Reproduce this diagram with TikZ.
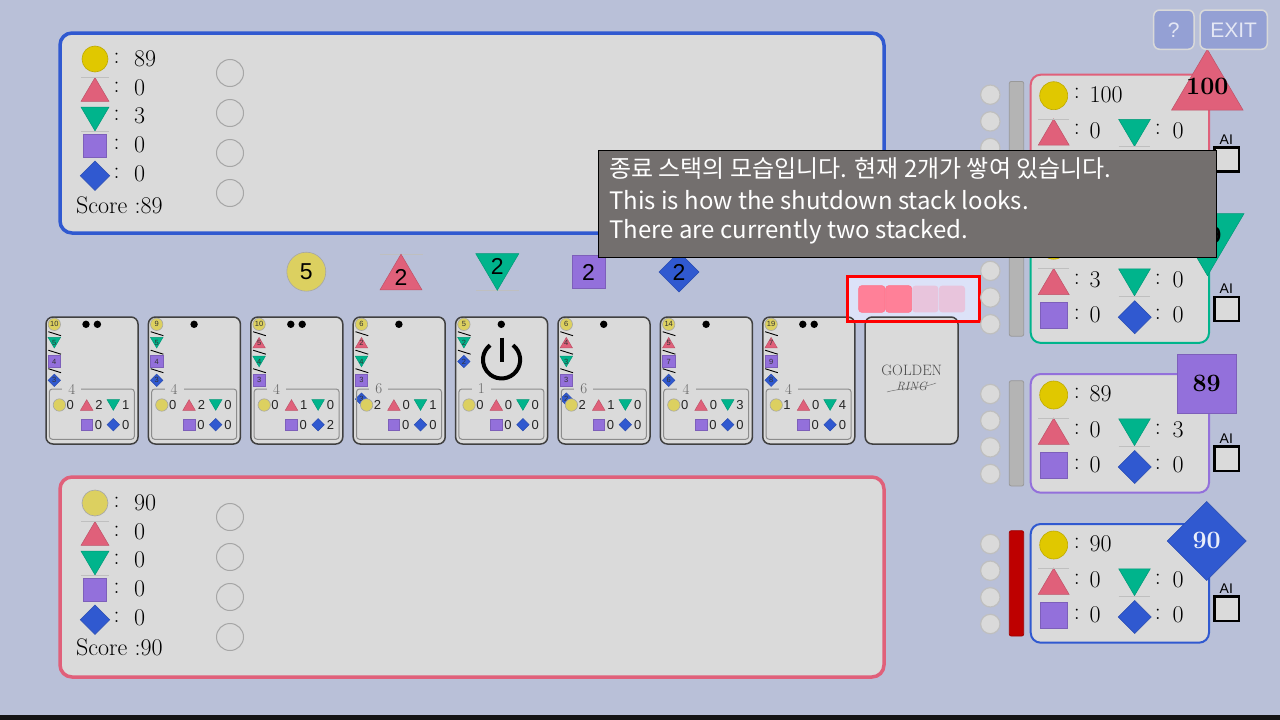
\documentclass[tikz,border=0pt]{standalone}
\usepackage{fontspec}
\newfontfamily\kofont{Noto Sans CJK KR}
\newfontfamily\uifont{Liberation Sans}
\usetikzlibrary{positioning}
\definecolor{pagebg}{HTML}{B9C0D8}
\definecolor{cardgrey}{HTML}{DADADA}
\definecolor{tokyellow}{HTML}{E0C800}
\definecolor{dimyellow}{HTML}{DCD060}
\definecolor{tokred}{HTML}{E0607A}
\definecolor{tokteal}{HTML}{00B48C}
\definecolor{tokpurple}{HTML}{9370DB}
\definecolor{tokblue}{HTML}{3059D0}
\definecolor{tipgrey}{HTML}{736F6E}
\definecolor{btnblue}{HTML}{94A0D4}
\definecolor{rodgrey}{HTML}{B4B4B4}
\definecolor{rodred}{HTML}{BE0000}
\definecolor{glowbg}{HTML}{DCE2F8}
\definecolor{padon}{HTML}{FF8098}
\definecolor{padoff}{HTML}{E8C4DC}
\newcommand{\pxfont}[1]{\fontsize{#1}{#1}\selectfont}
\tikzset{
  pics/circletok/.style={code={\path[draw=gray!70,fill=dimyellow,line width=.6pt] (0,0) circle[radius=1];}},
  pics/brighttok/.style={code={\path[draw=tokyellow!85!black,fill=tokyellow,line width=.6pt] (0,0) circle[radius=1];}},
  pics/uptok/.style={code={\path[draw=tokred!85!black,fill=tokred,line width=.5pt] (0,-.85) -- (1,.85) -- (-1,.85) -- cycle;}},
  pics/downtok/.style={code={\path[draw=tokteal!85!black,fill=tokteal,line width=.5pt] (0,.85) -- (1,-.85) -- (-1,-.85) -- cycle;}},
  pics/squaretok/.style={code={\path[draw=tokpurple!85!black,fill=tokpurple,line width=.5pt] (-1,-1) rectangle (1,1);}},
  pics/diamondtok/.style={code={\path[draw=tokblue!85!black,fill=tokblue,line width=.5pt] (0,-1) -- (1,0) -- (0,1) -- (-1,0) -- cycle;}},
  cardbox/.style={draw=black!75,fill=cardgrey,line width=1.5pt,rounded corners=7pt},
  innerbox/.style={draw=black!45,line width=1pt,rounded corners=3pt},
  seqnum/.style={font=\uifont\pxfont{7.5},text=black!80,inner sep=0pt},
  rownum/.style={font=\uifont\pxfont{13},text=black!85,inner sep=0pt},
  bignum/.style={font=\pxfont{24},inner sep=0pt,anchor=west},
  statnum/.style={font=\pxfont{24},inner sep=0pt,anchor=west},
  midnum/.style={font=\uifont\pxfont{23},inner sep=0pt},
  badgenum/.style={font=\bfseries\pxfont{25},inner sep=0pt},
  pitbox/.style={draw=black!35,line width=1pt},
  slotdot/.style={draw=black!25,fill=cardgrey,line width=1.2pt},
  hairline/.style={draw=black!25,line width=.5pt},
  uibtn/.style={draw=black!15,fill=btnblue,line width=1.5pt,rounded corners=6pt},
  uitext/.style={font=\uifont\pxfont{21},text=white!75!btnblue,inner sep=0pt},
  stackpad/.style={rounded corners=3pt,line width=.6pt}
}
% name, then five row values
\newcommand{\cardrow}[6]{
  \pic[scale=6.2] at (13.4,88) {circletok};
  \node[rownum] (#1-a) at (24.3,88) {#2};
  \pic[scale=6.2] at (40.7,88) {uptok};
  \node[rownum] (#1-b) at (53,88) {#3};
  \pic[scale=6.2] at (67.3,88) {downtok};
  \node[rownum] (#1-c) at (79.7,88) {#4};
  \pic[scale=5.8] at (40.6,107.7) {squaretok};
  \node[rownum] (#1-d) at (52.5,107.7) {#5};
  \pic[scale=6.2] at (67.3,107.7) {diamondtok};
  \node[rownum] (#1-e) at (79.7,107.7) {#6};
}
% name, x, dot positions, cost, token list, big digit, row values
\newcommand{\gamecard}[7]{
  \begin{scope}[shift={(#2,317)}]
    \draw[cardbox] (0,0) rectangle (92,127);
    \foreach \d in {#3} \fill[black] (\d,7.3) circle[radius=3.7];
    \pic[scale=6.2] at (8.3,7.3) {circletok};
    \node[seqnum] (#1-cost) at (8.3,7.3) {#4};
    \foreach \t/\n [count=\i] in {#5} {
      \ifnum\i<4 \draw[black,line width=.9pt] (2.3,{14.7+18.5*(\i-1)}) -- (15,{18.7+18.5*(\i-1)}); \fi
      \pic[scale=6.2] at (8.3,{25.7+18.8*(\i-1)}) {\t tok};
      \node[seqnum] (#1-s\i) at (8.3,{25.7+18.8*(\i-1)}) {\n};
    }
    \draw[innerbox] (3.3,72) rectangle (88.3,122.3);
    \node[fill=cardgrey,inner xsep=6pt,inner ysep=0pt,font=\pxfont{15},text=black!60] (#1-no) at (25.7,72) {#6};
    \cardrow{#1}#7
  \end{scope}
}
% name, y, border, circle pic, values
\newcommand{\mainpanel}[9]{
  \begin{scope}[shift={(0,#2)}]
    \draw[draw=#3,fill=cardgrey,line width=3.5pt,rounded corners=12pt] (60,33) rectangle (884,233);
    \pic[scale=13] at (95,59) {#4};
    \pic[scale=14] at (95,89.5) {uptok};
    \pic[scale=14] at (95,119) {downtok};
    \pic[scale=11.7] at (95,145.5) {squaretok};
    \pic[scale=14.7] at (95,175.7) {diamondtok};
    \draw[hairline] (81,77.5) -- (109,77.5) (81,131) -- (109,131);
    \foreach \r/\v [count=\i] in {59/#5,88/#6,116/#7,145/#8,174/#9} {
      \node[bignum] (#1-c\i) at (113.5,\r-1) {:};
      \node[bignum] (#1-v\i) at (134,\r) {\v};
    }
    \foreach \r in {73,113,153,193} \draw[pitbox] (230,\r) circle[radius=13.5];
  \end{scope}
}
% name, y, border, rod colour, values
\newcommand{\statpanel}[9]{
  \begin{scope}[shift={(1030.7,#2)}]
    \foreach \r in {20,46.7,73.3,100} \draw[slotdot] (-40.4,\r) circle[radius=9.7];
    \draw[draw=#4!85!black,fill=#4,line width=.8pt,rounded corners=2pt] (-21.4,6.7) rectangle (-7,112);
    \draw[draw=#3,fill=cardgrey,line width=2pt,rounded corners=10pt] (0,0) rectangle (178.3,118.7);
    \pic[scale=14] at (23,21) {brighttok};
    \pic[scale=15.5] at (23,57.3) {uptok};
    \pic[scale=15.8] at (103.8,58.2) {downtok};
    \pic[scale=13.2] at (23,91.2) {squaretok};
    \pic[scale=16.5] at (104,93) {diamondtok};
    \draw[hairline] (7.6,44.3) -- (38.6,44.3) (88,72) -- (119.6,72);
    \node[statnum] (#1-c1) at (43,19) {:};
    \node[statnum] (#1-c2) at (43,55) {:};
    \node[statnum] (#1-c3) at (43,90) {:};
    \node[statnum] (#1-c4) at (124,55) {:};
    \node[statnum] (#1-c5) at (124,90) {:};
    \node[statnum] (#1-v1) at (58.6,20) {#5};
    \node[statnum] (#1-v2) at (58.6,56) {#6};
    \node[statnum] (#1-v3) at (141.6,56) {#7};
    \node[statnum] (#1-v4) at (58.6,91) {#8};
    \node[statnum] (#1-v5) at (141.6,91) {#9};
    \node[font=\uifont\pxfont{14},inner sep=0pt] (#1-ai) at (195.6,64.5) {AI};
    \draw[draw=black,fill=cardgrey,line width=2.5pt] (183.7,72.7) rectangle (208.5,97);
  \end{scope}
}
\begin{document}
\begin{tikzpicture}[x=1pt,y=-1pt]
\useasboundingbox (0,0) rectangle (1280,720);
\fill[pagebg] (0,0) rectangle (1280,720);
\fill[black!92] (0,715) rectangle (1280,720);

% player boards
\mainpanel{top}{0}{tokblue}{brighttok}{89}{0}{3}{0}{0}
\node[font=\pxfont{24},inner sep=0pt,anchor=west] (topscore) at (76,205) {Score :89};
\mainpanel{bottom}{444}{tokred}{circletok}{90}{0}{0}{0}{0}
\node[font=\pxfont{24},inner sep=0pt,anchor=west] (bottomscore) at (76,647) {Score :90};

% token stacks
\pic[scale=19.5] at (306.3,271.7) {circletok};
\node[midnum] (midfive) at (306.3,271.7) {5};
\draw[hairline] (380,254) -- (423,254) (476,290.5) -- (519,290.5);
\pic[scale=21] at (401,272) {uptok};
\node[midnum] (midup) at (401,277) {2};
\pic[scale=21.5] at (497.3,272) {downtok};
\node[midnum] (middown) at (497.3,266) {2};
\pic[scale=16.5] at (588.6,272.2) {squaretok};
\node[midnum] (midsquare) at (588.6,272) {2};
\pic[scale=20] at (679,272) {diamondtok};
\node[midnum] (middiamond) at (679,272) {2};

% shutdown highlight
\fill[glowbg] (846,275) rectangle (980,322);

\gamecard{c1}{46}{40,51.4}{10}{down/5,square/4,diamond/3}{4}{{0}{2}{1}{0}{0}}
\gamecard{c2}{148.4}{45.7}{9}{down/5,square/4,diamond/3}{4}{{0}{2}{0}{0}{0}}
\gamecard{c3}{250.8}{40,51.4}{10}{up/5,down/4,square/3}{4}{{0}{1}{0}{0}{2}}
\gamecard{c4}{353.2}{45.7}{6}{up/2,down/4,square/3,diamond/3}{6}{{2}{0}{1}{0}{0}}
\gamecard{c5}{455.6}{45.7}{5}{down/2,diamond/2}{1}{{0}{0}{0}{0}{0}}
\gamecard{c6}{558}{45.7}{6}{up/4,down/3,square/3,diamond/2}{6}{{2}{1}{0}{0}{0}}
\gamecard{c7}{660.4}{45.7}{14}{up/5,square/7,diamond/6}{4}{{0}{0}{3}{0}{0}}
\gamecard{c8}{762.8}{40,51.4}{19}{up/7,square/9,diamond/8}{4}{{1}{0}{4}{0}{0}}

% power mark on the shutdown card
\draw[black,line width=4pt] (501.7,337.5) -- (501.7,361.5);
\draw[black,line width=4pt] (513,345.2) arc[start angle=52,end angle=-232,radius=18.6pt];

% deck
\draw[cardbox] (865.2,317) rectangle (958,444);
\node[font=\pxfont{15},text=black!70,inner sep=0pt] (deckgolden) at (911.7,370) {GOLDEN};
\node[font=\itshape\pxfont{12},text=black!70,inner sep=0pt] (deckring) at (911.7,386.5) {RING};
\draw[black!55,line width=.5pt] (887,392) .. controls (900,388) and (925,388) .. (936,383);

\draw[red,line width=3pt] (847.5,276.5) rectangle (979.5,321);
\draw[stackpad,fill=padon,draw=padon!90!red] (858.7,285.7) rectangle (885,312.3);
\draw[stackpad,fill=padon,draw=padon!90!red] (885.7,285.7) rectangle (911.7,312.3);
\draw[stackpad,fill=padoff,draw=none] (912.3,285.7) rectangle (938.3,312.3);
\draw[stackpad,fill=padoff,draw=none] (939,285.7) rectangle (965,312.3);

% score boards
\statpanel{red}{74.7}{tokred}{rodgrey}{100}{0}{0}{}{}
\statpanel{teal}{224.2}{tokteal}{rodgrey}{}{3}{0}{0}{0}
\statpanel{purple}{374}{tokpurple}{rodgrey}{89}{0}{3}{0}{0}
\statpanel{blue}{524}{tokblue}{rodred}{90}{0}{0}{0}{0}

\pic[scale=35.8] at (1207.3,79.7) {uptok};
\node[badgenum] (badgered) at (1207.3,86) {100};
\pic[scale=36.5] at (1207.5,244.7) {downtok};
\node[badgenum,anchor=east] (badgeteal) at (1222,235) {9};
\pic[scale=29.6] at (1206.7,383.8) {squaretok};
\node[badgenum] (badgepurple) at (1206.7,383) {89};
\pic[scale=39.5] at (1206.7,541) {diamondtok};
\node[badgenum,text=white!90!tokblue] (badgeblue) at (1206.7,540) {90};

% top buttons
\draw[uibtn] (1153.7,10) rectangle (1194,49.3);
\node[uitext] (helpbtn) at (1173.8,30) {?};
\draw[uibtn] (1200,10) rectangle (1267.3,49.3);
\node[uitext] (exitbtn) at (1233.6,30) {EXIT};

% tooltip
\node[draw=black,fill=tipgrey,line width=1.2pt,minimum width=617.5pt,minimum height=107pt,
      inner sep=0pt,anchor=north west] (tipbox) at (598.2,149.8) {};
\node[font=\kofont\pxfont{24},text=white,inner sep=0pt,anchor=west] (tipko) at (609,168.5) {종료 스택의 모습입니다. 현재 2개가 쌓여 있습니다.};
\node[font=\kofont\pxfont{24},text=white,inner sep=0pt,anchor=west] (tipen) at (609,200) {This is how the shutdown stack looks.};
\node[font=\kofont\pxfont{24},text=white,inner sep=0pt,anchor=west] (tiptwo) at (609,232) {There are currently two stacked.};
\end{tikzpicture}
\end{document}
